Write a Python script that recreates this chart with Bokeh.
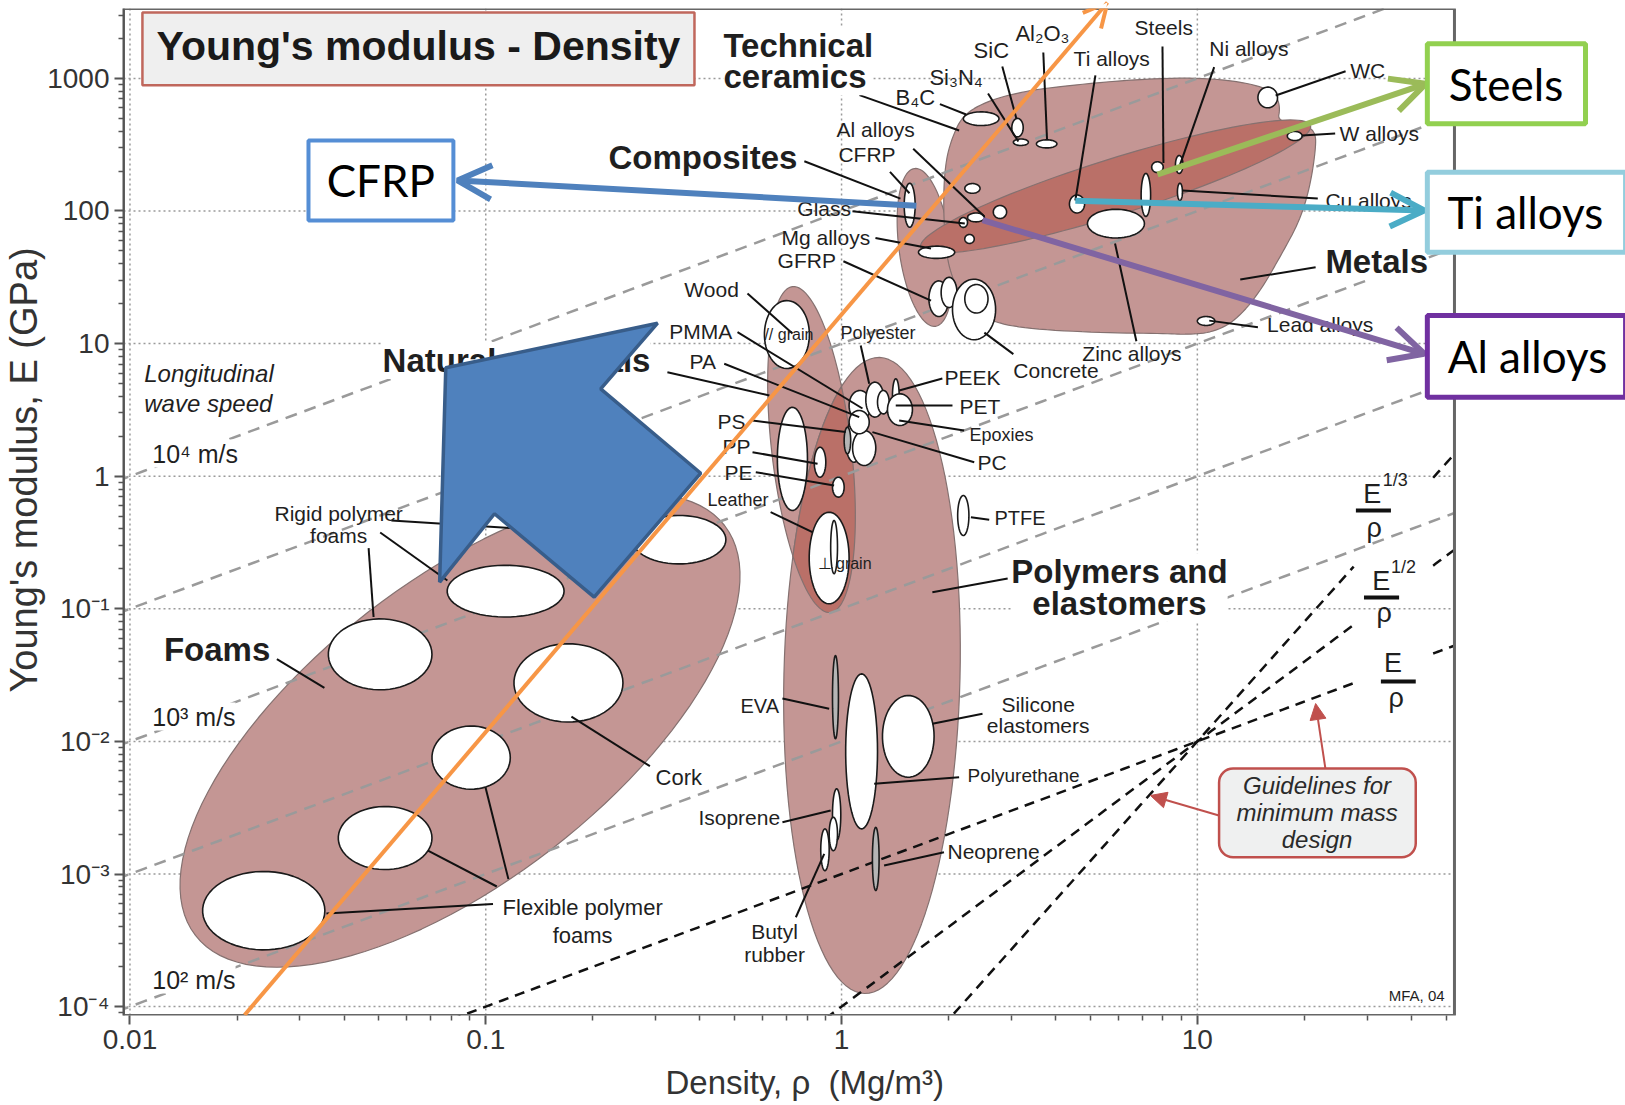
import numpy as np
from bokeh.plotting import figure
from bokeh.models import FixedTicker, Arrow, OpenHead, NormalHead, Range1d, Title
from bokeh.core.properties import value
from bokeh.embed import file_html
from bokeh.resources import INLINE

FONT = "Liberation Sans"
BOX_FONT = "Lato"

# ---------------- axes ----------------
X_MAJOR = [0.01, 0.1, 1, 10]
X_MAJOR_LABELS = ["0.01", "0.1", "1", "10"]
Y_MAJOR = [1e-4, 1e-3, 1e-2, 1e-1, 1, 10, 100, 1000]
Y_MAJOR_LABELS = ["10⁻⁴", "10⁻³", "10⁻²", "10⁻¹", "1", "10", "100", "1000"]
X_LIMITS = [0.00959, 161.8]     # frame range (right part holds the callout boxes)
CHART_RIGHT = 52.8              # right edge of the chart area
Y_LIMITS = [8.57e-5, 3365.0]
X_TITLE = "Density, ρ\u00a0 (Mg/m³)"
Y_TITLE = "Young's modulus, E (GPa)"

# ---------------- guide lines ----------------
WAVE_SPEED_K = [0.01, 0.1, 1.0, 10.0, 100.0]          # E = k * rho
GUIDE_COEF = [1e-3, 1e-4, 1e-5]                        # E = c * rho^n
GUIDE_POWER = [1, 2, 3]
GUIDE_GAP = [27.5, 46.0]

# ---------------- envelopes (tilted ellipses: major axis ends + half width in decades) ----
ENV_NAME = ["Foams", "Natural materials", "Polymers and elastomers", "Composites"]
ENV_RHO1 = [0.01528, 0.728, 1.278, 1.603]
ENV_E1 = [3.44e-4, 26.9, 7.86, 209.0]
ENV_RHO2 = [0.469, 0.931, 1.16, 1.836]
ENV_E2 = [0.4247, 0.0938, 1.256e-4, 13.5]
ENV_HW = [1.13, 0.30, 0.664, 0.196]

# dark metals core envelope
CORE_RHO = [1.668, 20.8]
CORE_E = [53.0, 441.0]
CORE_HW = 0.211

# technical ceramics + metals envelope outline
MET_RHO = [2.05, 2.20, 2.59, 3.25, 4.10, 6.53, 10.3, 14.3, 16.6, 17.1, 16.8, 19.7, 21.5, 21.5,
           20.7, 19.4, 17.3, 14.9, 12.8, 11.0, 9.26, 8.19, 5.17, 3.25, 2.59, 2.24, 2.05, 1.96,
           1.93, 1.96]
MET_E = [365, 534, 681, 797, 869, 981, 1016, 915, 769, 603, 473, 457, 398, 286,
         150, 84.8, 47.8, 23.9, 14.9, 12.1, 11.7, 11.9, 12.1, 13.0, 14.9, 19.7, 30.4, 50.4,
         120, 236]

# ---------------- material bubbles ----------------
BUB_NAME = ["Flex foam A", "Flex foam B", "Flex foam C", "Cork", "Rigid foam A", "Rigid foam B",
            "Rigid foam C",
            "B4C", "SiC", "Si3N4", "Al2O3", "WC", "W alloys", "Steels", "Ni alloys", "Cu alloys",
            "Ti alloys", "Zinc alloys", "Cast irons", "Lead alloys", "Al alloys", "Glass",
            "Be", "Glass ceramic", "Alumina glass", "Mg alloys", "CFRP", "GFRP", "GFRP b",
            "Concrete", "Concrete inner",
            "Wood // grain", "Bamboo", "PP", "PE", "Wood ⊥ grain", "Leather",
            "PMMA", "Polyester", "PA", "PEEK", "PET", "PS", "PC", "PS b", "Epoxies",
            "PTFE", "EVA", "Polyurethane", "Silicone", "Isoprene", "Isoprene b", "Butyl rubber",
            "Neoprene"]
BUB_RHO_LO = [0.0160, 0.0385, 0.0706, 0.120, 0.0361, 0.0779, 0.258,
              2.20, 3.01, 3.04, 3.53, 14.8, 17.9, 7.44, 8.68, 8.79,
              4.37, 4.91, 6.95, 10.0, 2.26, 2.14,
              2.67, 2.22, 2.22, 1.645, 1.50, 1.76, 1.905,
              2.05, 2.22,
              0.607, 0.660, 0.838, 0.943, 0.811, 0.932,
              1.05, 1.17, 1.262, 1.39, 1.346, 1.027, 1.074, 1.017, 1.05,
              2.12, 0.943, 1.027, 1.303, 0.943, 0.923, 0.874,
              1.221]
BUB_RHO_HI = [0.0353, 0.0706, 0.1172, 0.243, 0.0706, 0.166, 0.473,
              2.77, 3.24, 3.35, 4.03, 16.8, 19.7, 8.02, 9.11, 9.08,
              4.82, 7.10, 7.39, 11.2, 2.52, 2.26,
              2.91, 2.36, 2.45, 2.08, 1.61, 2.00, 2.11,
              2.71, 2.58,
              0.812, 0.802, 0.903, 1.017, 1.05, 0.974,
              1.208, 1.317, 1.361, 1.452, 1.582, 1.145, 1.248, 1.061, 1.196,
              2.28, 0.980, 1.262, 1.82, 0.995, 0.974, 0.923,
              1.275]
BUB_E_LO = [2.68e-4, 1.08e-3, 4.36e-3, 0.0140, 0.0245, 0.0867, 0.218,
            441, 362, 312, 299, 600, 340, 195, 192, 120,
            96.6, 62.6, 90.9, 13.7, 82.8, 75.2,
            87.8, 56.9, 136, 43.9, 75.4, 16.0, 18.7,
            10.7, 17.0,
            6.49, 0.551, 0.983, 0.695, 0.109, 0.184,
            2.63, 2.79, 2.95, 2.95, 2.41, 1.275, 1.204, 1.475, 2.09,
            0.357, 0.01046, 2.19e-3, 5.37e-3, 1.79e-3, 1.50e-3, 1.06e-3,
            7.51e-4]
BUB_E_HI = [1.045e-3, 3.23e-3, 0.01306, 0.0545, 0.0839, 0.213, 0.506,
            559, 499, 349, 344, 859, 398, 235, 262, 162,
            132, 103, 192, 16.0, 96.6, 89.3,
            110, 66.5, 161, 54.3, 162, 29.7, 31.6,
            30.6, 27.9,
            21.1, 3.31, 1.654, 0.983, 0.535, 0.463,
            4.43, 5.12, 4.43, 5.43, 4.18, 2.63, 2.21, 2.34, 3.13,
            0.715, 0.0444, 0.0323, 0.0222, 4.39e-3, 2.68e-3, 2.19e-3,
            2.25e-3]
BUB_GREY = ["EVA", "Neoprene", "PS b"]

# ---------------- leader lines ----------------
LEAD_R0 = [1.123, 0.786, 0.324, 21.5, 2.93, 0.02588, 3.69, 2.83, 2.58, 1.89, 5.17, 7.98, 11.15,
           26.1, 24.4, 21.8, 14.8, 6.74, 3.04, 1.368, 1.073, 1.245, 1.012, 1.59, 0.544, 0.51,
           0.468, 1.132, 1.92, 2.05, 2.21, 2.36, 0.562, 0.562, 0.574, 0.632, 2.31, 0.682, 2.49,
           2.14, 0.682, 1.94, 0.744, 0.04685, 0.0505, 0.0543, 0.1048, 0.1074, 0.1158, 0.2893]
LEAD_E0 = [748, 237, 6.08, 37.7, 0.1693, 0.0418, 1568, 1229, 769, 640, 1052, 1740, 1215, 1133,
           384, 124, 13.3, 10.4, 8.33, 197, 99.7, 62.6, 41.8, 295, 23.9, 12.2, 7.04, 9.67, 5.46,
           3.41, 2.21, 1.275, 2.63, 1.517, 1.072, 0.535, 0.491, 0.02106, 0.01615, 5.37e-3,
           2.46e-3, 1.46e-3, 4.72e-4, 0.287, 0.376, 0.4634, 5.94e-4, 8.05e-4, 9.15e-4, 6.5e-3]
LEAD_R1 = [2.14, 1.464, 0.627, 13.2, 1.80, 0.0352, 3.78, 3.10, 3.14, 2.24, 4.54, 8.03, 8.89,
           16.6, 19.7, 9.08, 10.8, 5.87, 2.52, 1.552, 2.22, 1.784, 1.784, 2.52, 0.728, 1.145,
           1.121, 1.196, 1.452, 1.42, 1.452, 1.221, 1.027, 0.856, 0.953, 0.828, 2.60, 0.923,
           1.80, 1.235, 0.932, 1.317, 0.894, 0.04838, 0.078, 0.2584, 0.03566, 0.0688, 0.0998,
           0.1741]
LEAD_E1 = [405, 124, 4.06, 30.4, 0.1334, 0.02536, 346, 498, 334, 534, 120, 230, 214, 743, 371,
           143, 14.9, 56.9, 12.1, 136, 80.5, 52.1, 21.1, 90.9, 11.9, 3.24, 2.79, 4.98, 4.43,
           3.41, 2.63, 2.15, 2.15, 1.24, 0.851, 0.378, 0.469, 0.01761, 0.01357, 4.79e-3,
           3.01e-3, 1.16e-3, 1.42e-3, 0.0867, 0.1634, 0.357, 5.04e-4, 1.50e-3, 4.51e-3, 0.0154]

# ---------------- text labels ----------------
SMALL_TEXT = ["Al₂O₃", "SiC", "Si₃N₄", "B₄C", "Ti alloys", "Steels", "Ni alloys", "WC",
              "W alloys", "Cu alloys", "Lead alloys", "Zinc alloys", "Concrete", "Al alloys",
              "CFRP", "Glass", "Mg alloys", "GFRP", "Wood", "// grain", "⊥ grain", "PMMA",
              "PA", "Polyester", "PEEK", "PET", "Epoxies", "PC", "PS", "PP", "PE", "Leather",
              "PTFE", "EVA", "Polyurethane", "Isoprene", "Neoprene", "Cork", "MFA, 04"]
SMALL_RHO = [3.08, 2.35, 1.766, 1.418, 4.49, 6.66, 10.8, 26.9, 25.1, 22.9, 15.7, 4.75, 3.04,
             0.968, 0.98, 0.751, 0.678, 0.661, 0.3615, 0.607, 0.856, 0.328, 0.3737, 0.993,
             1.946, 2.145, 2.288, 2.41, 0.448, 0.4627, 0.4688, 0.42, 2.69, 0.52, 2.26, 0.396,
             1.985, 0.30, 34.5]
SMALL_E = [2181, 1623, 1016, 718, 1413, 2420, 1681, 1147, 384, 120, 13.9, 8.42, 6.27, 412, 267,
           104, 62.6, 42.0, 25.6, 11.7, 0.2196, 12.3, 7.33, 12.1, 5.55, 3.36, 2.03, 1.27, 2.59,
           1.675, 1.066, 0.667, 0.488, 0.01865, 5.53e-3, 2.65e-3, 1.48e-3, 5.34e-3, 1.21e-4]
SMALL_SIZE = [22, 22, 22, 22, 21, 21, 21, 21, 21, 21, 21, 21, 21, 21, 21, 21, 21, 21, 21, 16, 16,
              21, 21, 18, 21, 21, 18, 21, 21, 21, 21, 18, 20, 20, 19, 21, 21, 22, 15]

MULTI_TEXT = ["Silicone\nelastomers", "Butyl\nrubber", "Rigid polymer\nfoams",
              "Flexible polymer\nfoams"]
MULTI_RHO = [3.57, 0.648, 0.0386, 0.1872]
MULTI_E = [0.02337, 4.47e-4, 0.634, 7.0e-4]
MULTI_SIZE = [21, 21, 21, 22]
MULTI_LH = [0.95, 1.0, 0.95, 1.15]

GROUP_TEXT = ["Technical\nceramics", "Composites", "Natural materials", "Metals",
              "Polymers and\nelastomers", "Foams"]
GROUP_RHO = [0.4655, 0.2213, 0.0513, 22.9, 6.04, 0.01246]
GROUP_E = [2450, 253, 7.46, 41.6, 0.262, 0.0493]
GROUP_ALIGN = ["left", "left", "left", "left", "center", "left"]
GROUP_BASE = ["top", "middle", "middle", "middle", "top", "middle"]

SPEED_TEXT = ["10⁴ m/s", "10³ m/s", "10² m/s"]
SPEED_RHO = [0.01155, 0.01155, 0.01155]
SPEED_E = [1.483, 0.0154, 1.6e-4]

TITLE_TEXT = "Young's modulus - Density"
TITLE_BOX = [0.01084, 0.386, 889.0, 3140.0]       # left, right, bottom, top
TITLE_POS = [0.0647, 1750.0]

GUIDE_NOTE = "Guidelines for\nminimum mass\ndesign"
GUIDE_BOX = [11.51, 41.1, 1.34e-3, 6.25e-3]
GUIDE_POS = [21.7, 2.91e-3]
GUIDE_ARROW_FROM = [[22.9, 6.25e-3], [11.5, 2.76e-3]]
GUIDE_ARROW_TO = [[21.5, 0.0193], [7.38, 3.91e-3]]

FRAC_SUP = ["1/3", "1/2", ""]
FRAC_E_POS = [[31.0, 0.740], [32.9, 0.1634], [35.5, 0.0387]]
FRAC_SUP_POS = [[33.2, 0.936], [35.0, 0.2066], [35.0, 0.0387]]
FRAC_BAR = [[27.9, 35.0, 0.551], [29.4, 36.9, 0.1217], [32.8, 41.1, 0.0283]]
FRAC_RHO_POS = [[31.4, 0.410], [33.5, 0.0922], [36.2, 0.02143]]

# ---------------- overlay annotations ----------------
BLUE_RHO = [0.304, 0.0772, 0.0742, 0.1058, 0.2017, 0.402, 0.2104]
BLUE_E = [14.25, 6.57, 0.159, 0.521, 0.1223, 1.053, 4.56]
ORANGE_FROM = [0.021, 8.65e-5]
ORANGE_TO = [5.59, 3736.0]

BOX_TEXT = ["Steels", "Ti alloys", "Al alloys", "CFRP"]
BOX_LEFT = [44.3, 44.3, 44.3, 0.03175]
BOX_RIGHT = [123.3, 159.8, 159.8, 0.0811]
BOX_BOTTOM = [454.6, 48.9, 3.943, 84.8]
BOX_TOP = [1824.0, 196.2, 16.29, 340.0]
BOX_TEXT_RHO = [73.7, 83.6, 84.7, 0.0507]
BOX_TEXT_E = [910.0, 97.9, 8.02, 170.0]
BOX_COLOR = ["#92d050", "#93cddd", "#7030a0", "#558ed5"]
BOX_LINE = [5, 5, 5, 4]
ARROW_FROM_RHO = [7.73, 4.54, 2.49, 1.623]
ARROW_FROM_E = [188.5, 119.4, 85.4, 109.6]
ARROW_TO_RHO = [43.8, 43.4, 43.4, 0.0833]
ARROW_TO_E = [910.0, 100.9, 8.38, 170.0]
ARROW_COLOR = ["#9bbb59", "#4bacc6", "#8064a2", "#4f81bd"]

# ---------------- figure ----------------
FW, FH = 1504, 1007
p = figure(frame_width=FW, frame_height=FH, x_axis_type="log", y_axis_type="log",
           x_range=Range1d(*X_LIMITS), y_range=Range1d(*Y_LIMITS),
           output_backend="svg", toolbar_location=None,
           min_border_left=121, min_border_right=0, min_border_top=8, min_border_bottom=80)
p.background_fill_color = "white"
p.border_fill_color = "white"
p.outline_line_color = None
p.grid.visible = False

xt = FixedTicker(ticks=X_MAJOR,
                 minor_ticks=[m * 10.0 ** e for e in range(-3, 2) for m in range(2, 10)
                              if m * 10.0 ** e <= CHART_RIGHT])
yt = FixedTicker(ticks=Y_MAJOR, minor_ticks=[m * 10.0 ** e for e in range(-5, 4) for m in range(2, 10)])
p.xaxis.ticker = xt
p.yaxis.ticker = yt
p.xaxis.major_label_overrides = {v: s for v, s in zip(X_MAJOR, X_MAJOR_LABELS)}
p.yaxis.major_label_overrides = {v: s for v, s in zip(Y_MAJOR, Y_MAJOR_LABELS)}
for ax in (p.xaxis[0], p.yaxis[0]):
    ax.axis_line_color = "#555555"
    ax.axis_line_width = 2
    ax.major_tick_line_color = "#555555"
    ax.major_tick_line_width = 2
    ax.major_tick_out = 9
    ax.major_tick_in = 0
    ax.minor_tick_line_color = "#555555"
    ax.minor_tick_line_width = 1.5
    ax.minor_tick_out = 5
    ax.minor_tick_in = 0
    ax.major_label_text_font = FONT
    ax.major_label_text_font_size = "28px"
    ax.major_label_text_color = "#333333"
    ax.major_label_standoff = 5
p.xaxis[0].axis_line_color = None

p.add_layout(Title(text=X_TITLE, align="left", offset=542, standoff=21, text_font=FONT,
                   text_font_size="33px", text_font_style="normal", text_color="#333333"),
             "below")
p.add_layout(Title(text=Y_TITLE, align="left", offset=323, standoff=0, text_font=FONT,
                   text_font_size="38px", text_font_style="normal", text_color="#333333"),
             "left")

# grid and chart outline
p.segment(X_MAJOR, [Y_LIMITS[0]] * len(X_MAJOR), X_MAJOR, [Y_LIMITS[1]] * len(X_MAJOR),
          line_color="#9a9a9a", line_dash="2 3", line_width=1.5)
p.segment([X_LIMITS[0]] * len(Y_MAJOR), Y_MAJOR, [CHART_RIGHT] * len(Y_MAJOR), Y_MAJOR,
          line_color="#9a9a9a", line_dash="2 3", line_width=1.5)

# ---------------- geometry helpers ----------------
LX = np.log10(X_LIMITS[1] / X_LIMITS[0])
LY = np.log10(Y_LIMITS[1] / Y_LIMITS[0])
K = (FW / LX) / (FH / LY)   # screen aspect of one decade in x vs y


def to_uv(r, e):
    return np.log10(np.asarray(r, float)) * K, np.log10(np.asarray(e, float))


def from_uv(u, v):
    return list(10 ** (np.asarray(u) / K)), list(10 ** np.asarray(v))


def tilted_ellipse_uv(r1, e1, r2, e2, hw, n=120):
    u1, v1 = to_uv(r1, e1)
    u2, v2 = to_uv(r2, e2)
    cu, cv = (u1 + u2) / 2, (v1 + v2) / 2
    du, dv = u2 - u1, v2 - v1
    L = np.hypot(du, dv)
    du, dv = du / L, dv / L
    nu, nv = -dv, du
    t = np.linspace(0, 2 * np.pi, n, endpoint=False)
    u = cu + (L / 2) * np.cos(t) * du + hw * np.sin(t) * nu
    v = cv + (L / 2) * np.cos(t) * dv + hw * np.sin(t) * nv
    return u, v


def bubble(rlo, rhi, elo, ehi, n=60):
    cx, ax = (np.log10(rlo) + np.log10(rhi)) / 2, (np.log10(rhi) - np.log10(rlo)) / 2
    cy, ay = (np.log10(elo) + np.log10(ehi)) / 2, (np.log10(ehi) - np.log10(elo)) / 2
    t = np.linspace(0, 2 * np.pi, n)
    return list(10 ** (cx + ax * np.cos(t))), list(10 ** (cy + ay * np.sin(t)))


def chaikin(u, v, it=3):
    P = np.column_stack([u, v])
    for _ in range(it):
        Q = np.roll(P, -1, axis=0)
        A = 0.75 * P + 0.25 * Q
        B = 0.25 * P + 0.75 * Q
        P = np.empty((2 * len(A), 2))
        P[0::2] = A
        P[1::2] = B
    return P[:, 0], P[:, 1]


def clip_convex(subject, clipper):
    def inside(pt, a, b):
        return (b[0] - a[0]) * (pt[1] - a[1]) - (b[1] - a[1]) * (pt[0] - a[0]) >= 0

    def inter(p1, p2, a, b):
        x1, y1 = p1; x2, y2 = p2; x3, y3 = a; x4, y4 = b
        den = (x1 - x2) * (y3 - y4) - (y1 - y2) * (x3 - x4)
        t = ((x1 - x3) * (y3 - y4) - (y1 - y3) * (x3 - x4)) / den
        return (x1 + t * (x2 - x1), y1 + t * (y2 - y1))

    out = list(subject)
    n = len(clipper)
    for i in range(n):
        a, b = clipper[i], clipper[(i + 1) % n]
        inp, out = out, []
        if not inp:
            break
        for j in range(len(inp)):
            cur, prev = inp[j], inp[j - 1]
            if inside(cur, a, b):
                if not inside(prev, a, b):
                    out.append(inter(prev, cur, a, b))
                out.append(cur)
            elif inside(prev, a, b):
                out.append(inter(prev, cur, a, b))
    return out


LIGHT = "#c49694"
DARK = "#ba7068"
EDGE = "#857170"

# envelopes
env = {}
for i, name in enumerate(ENV_NAME):
    env[name] = tilted_ellipse_uv(ENV_RHO1[i], ENV_E1[i], ENV_RHO2[i], ENV_E2[i], ENV_HW[i])

xs, ys = [], []
for name in ENV_NAME:
    a, b = from_uv(*env[name])
    xs.append(a); ys.append(b)
p.patches(xs, ys, fill_color=LIGHT, line_color=EDGE, line_width=1.2)

# overlap of natural materials and polymers
nat = list(zip(*env["Natural materials"]))
pol = list(zip(*env["Polymers and elastomers"]))
ov = clip_convex(nat, pol)
if ov:
    ou, ovv = zip(*ov)
    a, b = from_uv(ou, ovv)
    p.patch(a, b, fill_color=DARK, line_color=EDGE, line_width=1.2)

mu, mv = to_uv(MET_RHO, MET_E)
mu, mv = chaikin(mu, mv, 3)
a, b = from_uv(mu, mv)
p.patch(a, b, fill_color=LIGHT, line_color=EDGE, line_width=1.2)

cu_, cv_ = tilted_ellipse_uv(CORE_RHO[0], CORE_E[0], CORE_RHO[1], CORE_E[1], CORE_HW)
a, b = from_uv(cu_, cv_)
p.patch(a, b, fill_color=DARK, line_color=EDGE, line_width=1.2)

# grey longitudinal wave speed lines
rr = np.logspace(-2.3, np.log10(CHART_RIGHT), 60)
for k in WAVE_SPEED_K:
    p.line(rr, k * rr, line_color="#9a9a9a", line_width=2.5, line_dash="12 8")

# black minimum-mass guidelines
for c, n in zip(GUIDE_COEF, GUIDE_POWER):
    r1 = np.logspace(-1.5, np.log10(GUIDE_GAP[0]), 60)
    r2 = np.logspace(np.log10(GUIDE_GAP[1]), np.log10(CHART_RIGHT), 10)
    p.line(r1, c * r1 ** n, line_color="#111111", line_width=2.5, line_dash="10 7")
    p.line(r2, c * r2 ** n, line_color="#111111", line_width=2.5, line_dash="10 7")

# material bubbles
bx, by, bf = [], [], []
for i, name in enumerate(BUB_NAME):
    a, b = bubble(BUB_RHO_LO[i], BUB_RHO_HI[i], BUB_E_LO[i], BUB_E_HI[i])
    bx.append(a); by.append(b)
    bf.append("#b5b5b5" if name in BUB_GREY else "white")
p.patches(bx, by, fill_color=bf, line_color="#1a1a1a", line_width=1.6)

# leader lines
p.segment(LEAD_R0, LEAD_E0, LEAD_R1, LEAD_E1, line_color="#111111", line_width=2)

TXT = "#1f1f1f"


def put(x, y, t, size, align="left", base="middle", style="normal", lh=1.2, bg=None,
        font=FONT, color=TXT):
    kw = dict(x=x, y=y, text=t, text_font=value(font), text_font_size=value(f"{size}px"),
              text_align=align, text_baseline=base, text_font_style=style,
              text_line_height=lh, text_color=color)
    if bg:
        kw["background_fill_color"] = bg
    p.text(**kw)


for i in range(len(SMALL_TEXT)):
    put([SMALL_RHO[i]], [SMALL_E[i]], [SMALL_TEXT[i]], SMALL_SIZE[i])
for i in range(len(MULTI_TEXT)):
    put([MULTI_RHO[i]], [MULTI_E[i]], [MULTI_TEXT[i]], MULTI_SIZE[i], align="center",
        base="top", lh=MULTI_LH[i])
for i in range(len(GROUP_TEXT)):
    put([GROUP_RHO[i]], [GROUP_E[i]], [GROUP_TEXT[i]], 33, align=GROUP_ALIGN[i],
        base=GROUP_BASE[i], style="bold", lh=0.85, bg="white")
put(SPEED_RHO, SPEED_E, SPEED_TEXT, 25, bg="white")
put([0.01097], [7.46], ["Longitudinal\nwave speed"], 24, base="top", style="italic", lh=1.1,
    bg="white")

# title box
p.quad(left=[TITLE_BOX[0]], right=[TITLE_BOX[1]], bottom=[TITLE_BOX[2]], top=[TITLE_BOX[3]],
       fill_color="#efefef", line_color="#c0675c", line_width=2.5)
put([TITLE_POS[0]], [TITLE_POS[1]], [TITLE_TEXT], 41, align="center", style="bold",
    color="#1a1a1a")

# guideline note box
p.quad(left=[GUIDE_BOX[0]], right=[GUIDE_BOX[1]], bottom=[GUIDE_BOX[2]], top=[GUIDE_BOX[3]],
       fill_color="#eff0f0", line_color="#c0504d", line_width=2.5, border_radius=14)
put([GUIDE_POS[0]], [GUIDE_POS[1]], [GUIDE_NOTE], 24, align="center", style="italic", lh=1.0,
    color="#2a2a2a")
for (f, t) in zip(GUIDE_ARROW_FROM, GUIDE_ARROW_TO):
    p.add_layout(Arrow(x_start=f[0], y_start=f[1], x_end=t[0], y_end=t[1],
                       line_color="#c0504d", line_width=2,
                       end=NormalHead(size=16, fill_color="#c0504d", line_color="#c0504d")))

# fraction labels
for i in range(3):
    put([FRAC_E_POS[i][0]], [FRAC_E_POS[i][1]], ["E"], 27, align="center")
    if FRAC_SUP[i]:
        put([FRAC_SUP_POS[i][0]], [FRAC_SUP_POS[i][1]], [FRAC_SUP[i]], 18)
    put([FRAC_RHO_POS[i][0]], [FRAC_RHO_POS[i][1]], ["ρ"], 27, align="center")
p.segment([b[0] for b in FRAC_BAR], [b[2] for b in FRAC_BAR],
          [b[1] for b in FRAC_BAR], [b[2] for b in FRAC_BAR], line_color="#111111", line_width=4)

# chart outline (right / top / bottom edges)
p.quad(left=[X_LIMITS[0]], right=[CHART_RIGHT], bottom=[Y_LIMITS[0]], top=[Y_LIMITS[1]],
       fill_color=None, line_color="#666666", line_width=3)

# blue block arrow overlay
p.patch(BLUE_RHO, BLUE_E, fill_color="#4f81bd", line_color="#385d8a", line_width=3.5)

# orange arrow overlay
p.add_layout(Arrow(x_start=ORANGE_FROM[0], y_start=ORANGE_FROM[1], x_end=ORANGE_TO[0],
                   y_end=ORANGE_TO[1], line_color="#f79646", line_width=4,
                   end=OpenHead(size=24, line_color="#f79646", line_width=4)))

# callout arrows and boxes
for i in range(len(BOX_TEXT)):
    p.add_layout(Arrow(x_start=ARROW_FROM_RHO[i], y_start=ARROW_FROM_E[i],
                       x_end=ARROW_TO_RHO[i], y_end=ARROW_TO_E[i],
                       line_color=ARROW_COLOR[i], line_width=6,
                       end=OpenHead(size=34, line_color=ARROW_COLOR[i], line_width=6)))
p.quad(left=BOX_LEFT, right=BOX_RIGHT, bottom=BOX_BOTTOM, top=BOX_TOP, fill_color="white",
       line_color=BOX_COLOR, line_width=BOX_LINE, level="overlay")
p.text(x=BOX_TEXT_RHO, y=BOX_TEXT_E, text=BOX_TEXT, text_font=value(BOX_FONT),
       text_font_size=value("44px"), text_align="center", text_baseline="middle",
       text_color="black", level="overlay")

open("out.html", "w").write(file_html(p, INLINE))
